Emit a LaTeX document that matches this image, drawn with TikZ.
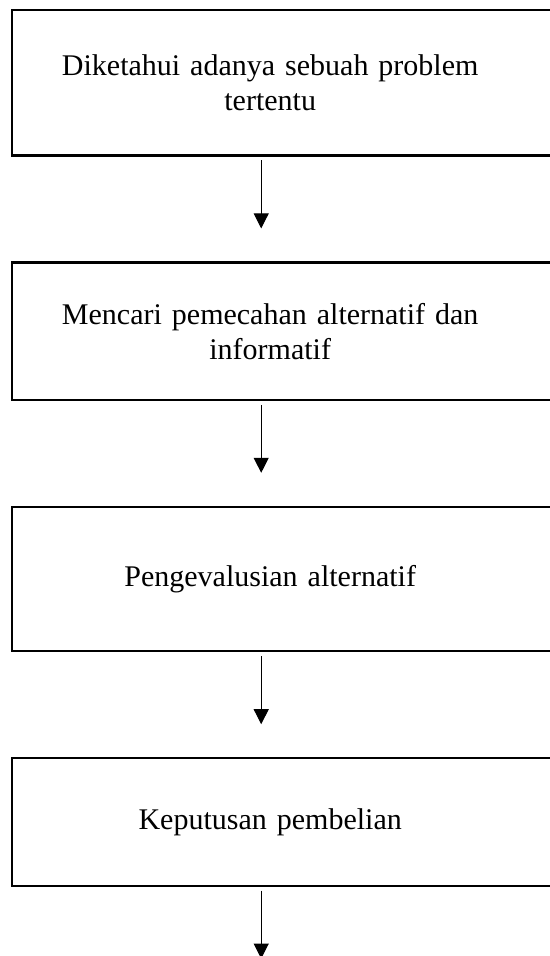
\documentclass[tikz,border=0pt]{standalone}
\usepackage{fontspec}
\setmainfont{Liberation Serif}
\usetikzlibrary{arrows.meta,positioning}

\begin{document}
\begin{tikzpicture}[
    txt/.style   = {text width=516pt, inner xsep=0pt, inner ysep=0pt, align=center,
                    font=\fontsize{30}{35}\selectfont},
    frame/.style = {draw, line width=2.2pt},
    flow/.style  = {-{Triangle[length=15pt,width=15pt]}, line width=1pt, shorten <=5pt},
    node distance=107pt]

    \useasboundingbox (0,0) rectangle (549pt,-956pt);

    % the steps, one below the other
    \node[txt, minimum height=145pt, anchor=north west] (b1) at (12pt,-10pt) {Diketahui adanya sebuah problem\\ tertentu};
    \node[txt, minimum height=137pt, below=of b1] (b2) {Mencari pemecahan alternatif dan\\ informatif};
    \node[txt, minimum height=144pt, below=of b2] (b3) {Pengevalusian alternatif};
    \node[txt, minimum height=127pt, below=of b3] (b4) {Keputusan pembelian};
    \coordinate[below=73pt of b4] (end);

    % frames, running off the right edge
    \foreach \n in {1,...,4}
    \draw[frame] (b\n.north west) rectangle ([xshift=40pt]b\n.south east);

    % arrows between the steps
    \foreach \a/\b in {1/2,2/3,3/4}
    \draw[flow, shorten >=34pt] ([xshift=-9pt]b\a.south) -- ([xshift=-9pt]b\b.north);
    \draw[flow] ([xshift=-9pt]b4.south) -- ([xshift=-9pt]end);
\end{tikzpicture}
\end{document}
